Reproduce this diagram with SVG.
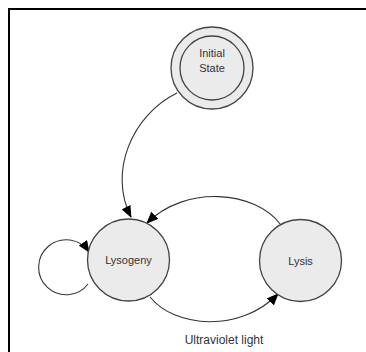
<svg xmlns="http://www.w3.org/2000/svg" width="366" height="352" viewBox="0 0 366 352">
  <style>
    .state { fill: #ebebeb; stroke: #444; stroke-width: 1.3; }
    .label { font-family: "Liberation Sans", Arial, sans-serif; font-size: 11px; fill: #333; text-anchor: middle; }
    .edge { fill: none; stroke: #333; stroke-width: 1.1; marker-end: url(#arrow); }
    .frame { fill: none; stroke: #000; stroke-width: 2; }
  </style>
  <defs>
    <marker id="arrow" markerWidth="12" markerHeight="10" refX="11" refY="5" orient="auto" markerUnits="userSpaceOnUse">
      <path d="M0,0 L12,5 L0,10 Z" fill="#000"/>
    </marker>
  </defs>
  <rect width="366" height="352" fill="#fff"/>
  <path class="frame" d="M9,352 V9 H366"/>

  <g id="connectors">
    <path class="edge" d="M177,93 C132,115 108,172 131,217"/>
    <path class="edge" d="M281,225 C255,190 185,185 147,223"/>
    <path class="edge" d="M150,297 C175,328 240,333 278,294"/>
    <path class="edge" d="M88,284 A27.5,27.5 0 1 1 89,252"/>
  </g>

  <g id="initial-state">
    <circle class="state" cx="212" cy="68" r="41"/>
    <circle class="state" cx="212" cy="68" r="32"/>
    <text class="label" x="212" y="57">Initial</text>
    <text class="label" x="212" y="72">State</text>
  </g>

  <g id="lysogeny">
    <circle class="state" cx="128.5" cy="260" r="41"/>
    <text class="label" x="128.5" y="264">Lysogeny</text>
  </g>

  <g id="lysis">
    <circle class="state" cx="300.5" cy="260.5" r="41"/>
    <text class="label" x="300.5" y="264.5">Lysis</text>
  </g>

  <text class="label" x="224" y="344" style="font-size:12px">Ultraviolet light</text>
</svg>
